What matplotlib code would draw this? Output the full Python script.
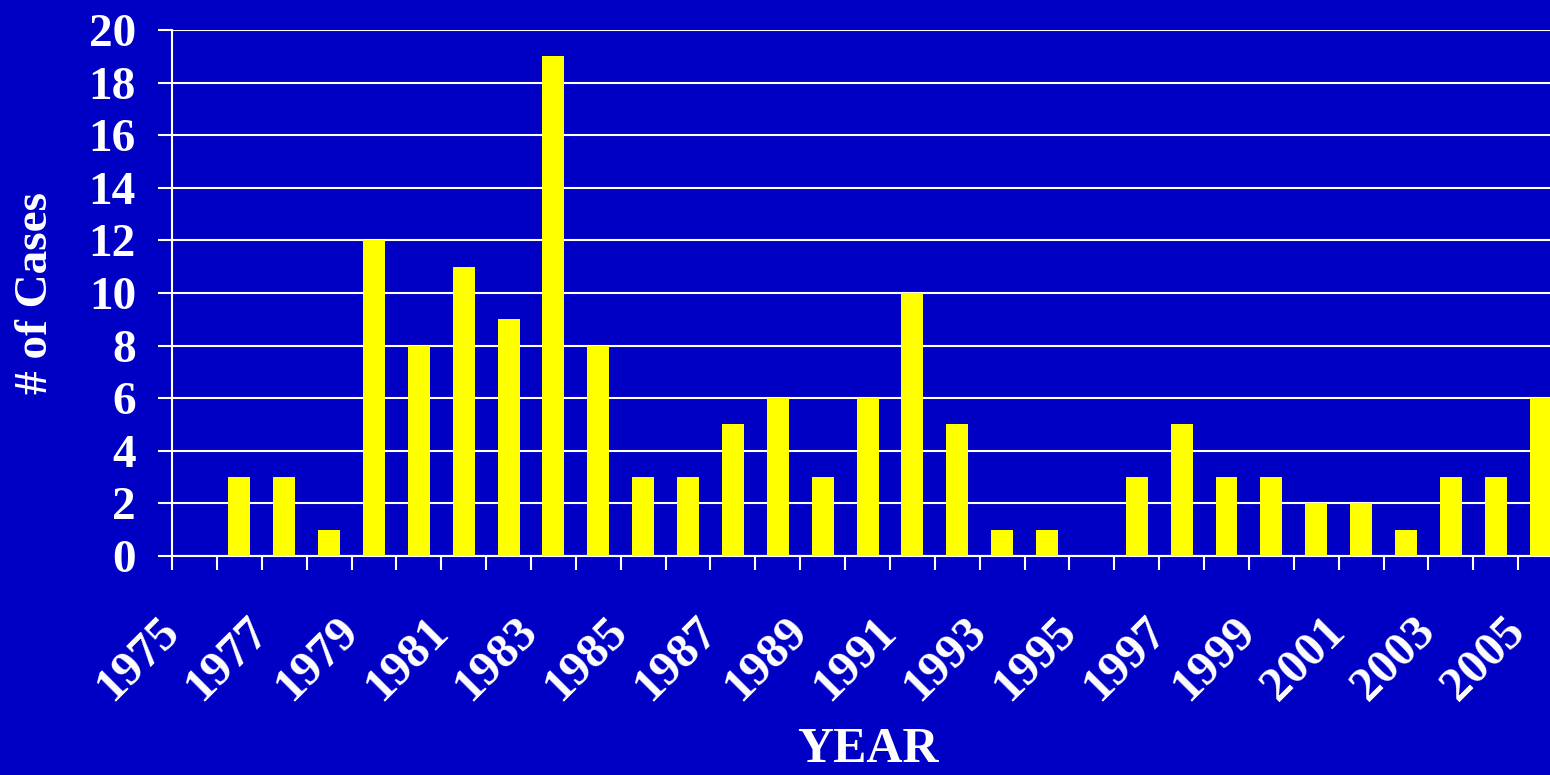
import matplotlib
matplotlib.use('Agg')
import matplotlib.pyplot as plt
import matplotlib.transforms as mtransforms
import numpy as np

# Data:
years = list(range(1975, 2006))
cases = [0, 3, 3, 1, 12, 8, 11, 9, 19, 8, 3, 3, 5, 6, 3, 6, 10, 5, 1, 1, 0, 3, 5, 3, 3, 2, 2, 1, 3, 3, 6]
yTicks = [0, 2, 4, 6, 8, 10, 12, 14, 16, 18, 20]

bgColor = '#0000C4'
barColor = '#FFFF00'
fontName = 'Liberation Serif'

plt.rcParams['font.family'] = fontName
plt.rcParams['font.weight'] = 'bold'

fig = plt.figure(figsize=(15.5, 7.75), dpi=100)
fig.patch.set_facecolor(bgColor)

# axes runs a little past the right edge, like the original slide
ax = fig.add_axes([0.111, 0.2826, 0.8974, 0.6787])
ax.set_facecolor(bgColor)

x = np.arange(len(years))
ax.bar(x, cases, width=0.49, color=barColor, zorder=3)

ax.set_xlim(-0.5, len(years) - 0.5)
ax.set_ylim(0, 20)

ax.set_yticks(yTicks)
ax.set_yticklabels([str(v) for v in yTicks], fontsize=34, color='white', fontweight='bold')
ax.yaxis.grid(True, color='white', linewidth=1.5, zorder=1)

# tick marks between categories, labels at category centers
ax.set_xticks(np.arange(-0.5, len(years), 1.0))
ax.set_xticklabels([])
ax.set_xticks(x[::2], minor=True)
ax.set_xticklabels([str(y) for y in years[::2]], minor=True, rotation=45, ha='right',
                   fontsize=35, color='white', fontweight='bold')
ax.tick_params(axis='x', which='major', direction='out', length=10, width=1.5, color='white')
ax.tick_params(axis='x', which='minor', length=0, pad=38)
ax.tick_params(axis='y', direction='out', length=10, width=1.5, color='white', pad=16)

shift = mtransforms.ScaledTranslation(-7 / 100, 0, fig.dpi_scale_trans)
for lbl in ax.get_xticklabels(minor=True):
    lbl.set_transform(lbl.get_transform() + shift)

for side in ['top', 'right']:
    ax.spines[side].set_visible(False)
for side in ['left', 'bottom']:
    ax.spines[side].set_color('white')
    ax.spines[side].set_linewidth(1.5)

fig.text(0.5597, 0.002, 'YEAR', ha='center', va='bottom', fontsize=36, color='white', fontweight='bold')
fig.text(0.023, 0.622, '# of Cases', ha='center', va='center', rotation=90, fontsize=34,
         color='white', fontweight='bold')

fig.savefig('out.png', dpi=100, facecolor=bgColor)
